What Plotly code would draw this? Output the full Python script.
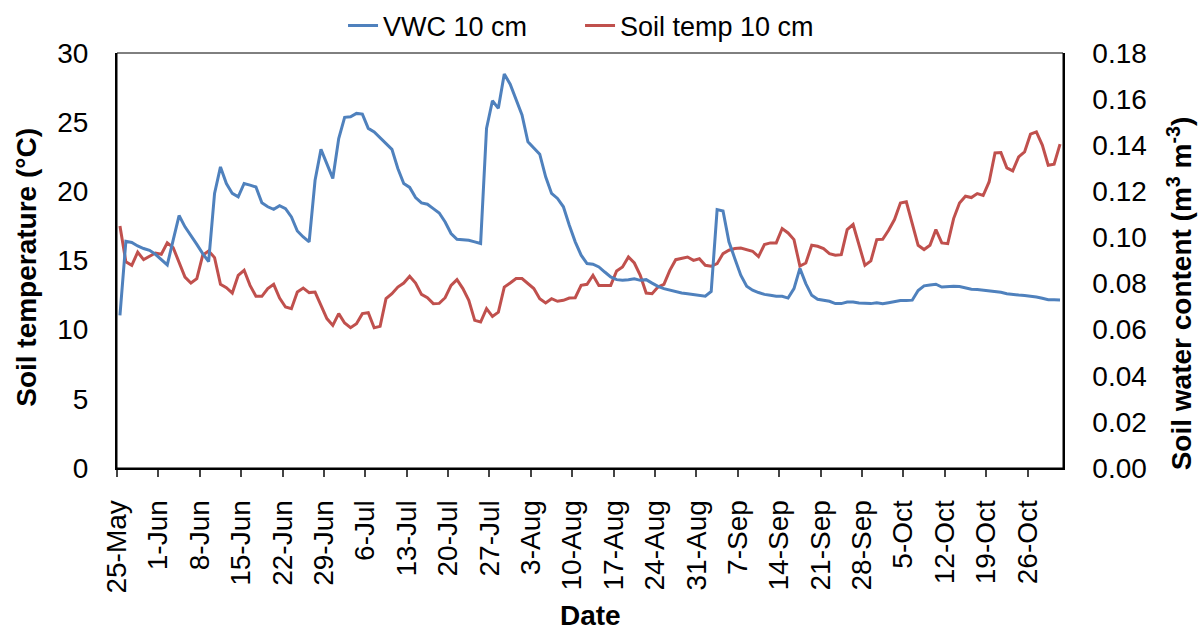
import pandas as pd
import plotly.graph_objects as go

# daily readings, 25-May to 31-Oct
dates = pd.date_range("2013-05-25 12:00", periods=160, freq="D")

vwc_10cm = [
    0.0662, 0.0983, 0.0978, 0.0963, 0.0952, 0.0944, 0.0927, 0.0904, 0.0881, 0.0988,
    0.1095, 0.1046, 0.1005, 0.0970, 0.0930, 0.0895, 0.1191, 0.1306, 0.1234, 0.1191,
    0.1176, 0.1234, 0.1227, 0.1219, 0.1150, 0.1133, 0.1122, 0.1138, 0.1125, 0.1089,
    0.1028, 0.1002, 0.0981, 0.1248, 0.1382, 0.1321, 0.1256, 0.1429, 0.1521, 0.1523,
    0.1538, 0.1535, 0.1473, 0.1458, 0.1434, 0.1408, 0.1382, 0.1299, 0.1234, 0.1217,
    0.1173, 0.1150, 0.1144, 0.1125, 0.1106, 0.1067, 0.1017, 0.0992, 0.0991, 0.0988,
    0.0981, 0.0974, 0.1473, 0.1593, 0.1560, 0.1709, 0.1665, 0.1596, 0.1531, 0.1415,
    0.1390, 0.1361, 0.1263, 0.1191, 0.1169, 0.1133, 0.1053, 0.0981, 0.0923, 0.0887,
    0.0884, 0.0872, 0.0850, 0.0829, 0.0817, 0.0814, 0.0817, 0.0821, 0.0814, 0.0817,
    0.0802, 0.0788, 0.0778, 0.0771, 0.0765, 0.0759, 0.0756, 0.0752, 0.0748, 0.0745,
    0.0766, 0.1121, 0.1115, 0.0981, 0.0908, 0.0836, 0.0788, 0.0771, 0.0761, 0.0753,
    0.0749, 0.0745, 0.0745, 0.0737, 0.0778, 0.0866, 0.0800, 0.0749, 0.0732, 0.0727,
    0.0723, 0.0713, 0.0713, 0.0720, 0.0720, 0.0716, 0.0713, 0.0713, 0.0717, 0.0713,
    0.0717, 0.0723, 0.0726, 0.0726, 0.0728, 0.0770, 0.0790, 0.0794, 0.0797, 0.0785,
    0.0788, 0.0788, 0.0787, 0.0781, 0.0775, 0.0774, 0.0771, 0.0768, 0.0766, 0.0762,
    0.0756, 0.0752, 0.0750, 0.0748, 0.0746, 0.0742, 0.0736, 0.0730, 0.0730, 0.0729,
]

soil_temp_10cm = [
    17.5, 14.9, 14.65, 15.6, 15.06, 15.3, 15.54, 15.45, 16.27, 15.93,
    14.9, 13.8, 13.37, 13.69, 15.38, 15.69, 15.21, 13.28, 13.04, 12.65,
    13.93, 14.29, 13.2, 12.41, 12.41, 12.97, 13.28, 12.28, 11.64, 11.52,
    12.72, 13.01, 12.68, 12.72, 11.76, 10.8, 10.31, 11.16, 10.48, 10.14,
    10.43, 11.16, 11.23, 10.14, 10.24, 12.24, 12.6, 13.08, 13.37, 13.86,
    13.37, 12.55, 12.31, 11.88, 11.9, 12.31, 13.2, 13.62, 12.97, 12.12,
    10.67, 10.55, 11.52, 10.96, 11.27, 13.08, 13.37, 13.69, 13.69, 13.33,
    12.97, 12.24, 11.93, 12.24, 12.05, 12.12, 12.29, 12.31, 13.2, 13.28,
    13.93, 13.2, 13.2, 13.2, 14.24, 14.53, 15.25, 14.82, 13.93, 12.65,
    12.6, 13.08, 13.28, 14.29, 15.06, 15.18, 15.25, 15.01, 15.13, 14.65,
    14.58, 14.77, 15.5, 15.74, 15.86, 15.9, 15.79, 15.67, 15.28, 16.15,
    16.27, 16.27, 17.31, 16.99, 16.51, 14.6, 14.82, 16.1, 16.03, 15.86,
    15.5, 15.38, 15.42, 17.23, 17.6, 16.1, 14.65, 14.97, 16.51, 16.53,
    17.19, 17.96, 19.16, 19.24, 17.6, 16.1, 15.79, 16.1, 17.23, 16.27,
    16.22, 18.03, 19.16, 19.65, 19.55, 19.84, 19.7, 20.68, 22.78, 22.8,
    21.7, 21.48, 22.49, 22.85, 24.13, 24.3, 23.34, 21.89, 21.96, 23.41,
]

BLUE = "#4F81BD"
RED = "#C0504D"
FONT = "Liberation Sans, Arial, sans-serif"
TITLE_FONT = dict(family="Liberation Sans", size=28)

fig = go.Figure()

fig.add_trace(
    go.Scatter(
        x=dates,
        y=vwc_10cm,
        mode="lines",
        name="VWC 10 cm",
        line=dict(color=BLUE, width=3),
        yaxis="y2",
    )
)
fig.add_trace(
    go.Scatter(
        x=dates,
        y=soil_temp_10cm,
        mode="lines",
        name="Soil temp 10 cm",
        line=dict(color=RED, width=3),
        yaxis="y",
    )
)

# axis titles as annotations so they can sit where the reference puts them
titles = [
    dict(text="<b>Date</b>", x=0.5, y=-0.356, textangle=0),
    dict(text="<b>Soil temperature (°C)</b>", x=-0.0951, y=0.4825, textangle=-90),
    dict(
        text="<b>Soil water content (m<sup>3</sup> m<sup>-3</sup>)</b>",
        x=1.1237,
        y=0.421,
        textangle=-90,
    ),
]

fig.update_layout(
    width=1199,
    height=630,
    font=dict(family=FONT, size=28, color="black"),
    plot_bgcolor="white",
    paper_bgcolor="white",
    margin=dict(l=117, r=136, t=53, b=162),
    xaxis=dict(
        type="date",
        range=["2013-05-25", "2013-11-01"],
        tick0="2013-05-25",
        dtick=7 * 86400000,
        tickformat="%-d-%b",
        tickangle=-90,
        ticks="outside",
        ticklen=7,
        tickwidth=2,
        ticklabelstandoff=12,
        showline=True,
        linecolor="black",
        linewidth=2,
        showgrid=False,
        zeroline=False,
        automargin=False,
    ),
    yaxis=dict(
        range=[0, 30],
        dtick=5,
        showline=True,
        linecolor="black",
        linewidth=2,
        showgrid=False,
        zeroline=False,
        ticks="",
        ticklabelstandoff=21,
        automargin=False,
    ),
    yaxis2=dict(
        range=[0, 0.18],
        dtick=0.02,
        tickformat=".2f",
        overlaying="y",
        side="right",
        showline=True,
        linecolor="black",
        linewidth=1.5,
        showgrid=False,
        zeroline=False,
        ticks="",
        ticklabelstandoff=22,
        automargin=False,
    ),
    legend=dict(
        orientation="h",
        xref="container",
        yref="container",
        x=0.2861,
        xanchor="left",
        y=0.9587,
        yanchor="middle",
        entrywidth=192,
        entrywidthmode="pixels",
        font=dict(size=27),
        bgcolor="rgba(0,0,0,0)",
    ),
    annotations=[
        dict(
            text=t["text"],
            xref="paper",
            yref="paper",
            x=t["x"],
            y=t["y"],
            textangle=t["textangle"],
            xanchor="center",
            yanchor="middle",
            showarrow=False,
            font=TITLE_FONT,
        )
        for t in titles
    ],
    shapes=[
        dict(
            type="rect",
            xref="paper",
            yref="paper",
            x0=0,
            x1=1,
            y0=0,
            y1=1,
            line=dict(color="black", width=1),
            layer="below",
        )
    ],
)

# drop the page's default 8px body margin so the figure sits at the window corner
fig.write_html(
    "out.html",
    config={"displayModeBar": False},
    post_script="document.body.style.margin = '0';",
)
